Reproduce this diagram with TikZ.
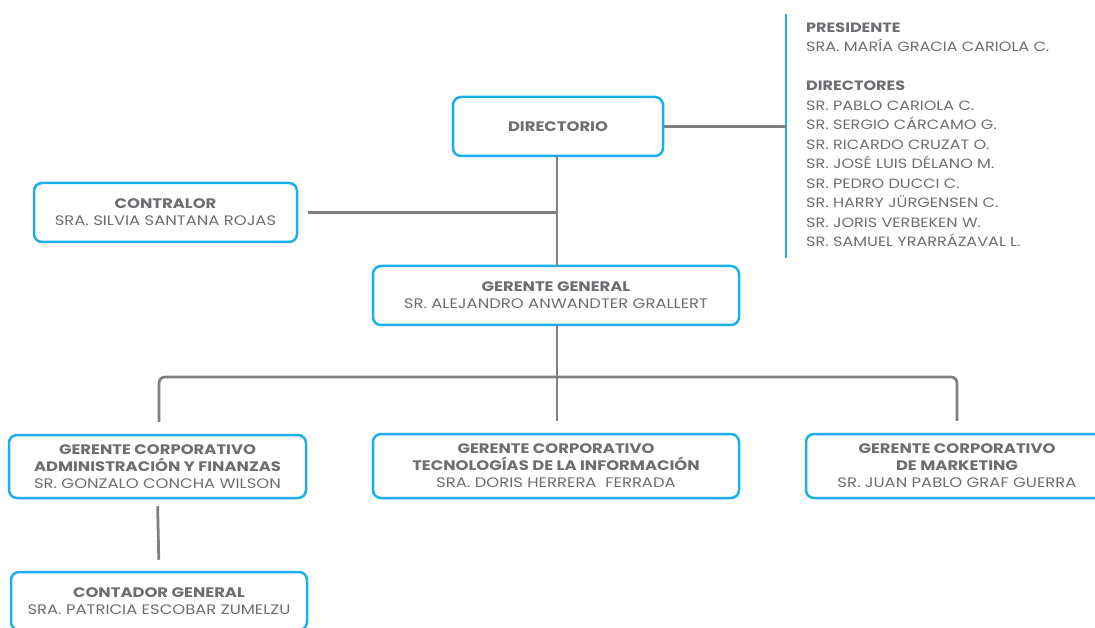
\documentclass[tikz,border=0pt]{standalone}
\usepackage{fontspec}
\setmainfont{Poppins}[FakeStretch=1.19]
\definecolor{boxblue}{HTML}{1BB0EC}
\definecolor{linegray}{HTML}{808080}
\definecolor{txtgray}{HTML}{6D6E71}

\tikzset{
    unit/.style={draw=boxblue, line width=2.5pt, rounded corners=8pt, fill=white,
        inner sep=0pt, align=center, text=txtgray,
        font=\fontsize{13.8}{17}\selectfont},
    link/.style={draw=linegray, line width=2.8pt}
}

\begin{document}
\begin{tikzpicture}[x=1pt, y=-1pt]
    \useasboundingbox (0,0) rectangle (1095,628);
    \clip (0,0) rectangle (1095,628);

    % boxes
    \node[unit, minimum width=210, minimum height=59] (dir) at (558,126.5) {\textbf{DIRECTORIO}};
    \node[unit, minimum width=263, minimum height=59] (contr) at (165.5,212.5) {\textbf{CONTRALOR}\\SRA. SILVIA SANTANA ROJAS};
    \node[unit, minimum width=366, minimum height=59] (gg) at (556,295.5) {\textbf{GERENTE GENERAL}\\SR. ALEJANDRO ANWANDTER GRALLERT};
    \node[unit, minimum width=297, minimum height=63] (adm) at (157.5,466.5) {\textbf{GERENTE CORPORATIVO}\\\textbf{ADMINISTRACIÓN Y FINANZAS}\\SR. GONZALO CONCHA WILSON};
    \node[unit, minimum width=366, minimum height=64] (ti) at (556,466) {\textbf{GERENTE CORPORATIVO}\\\textbf{TECNOLOGÍAS DE LA INFORMACIÓN}\\SRA. DORIS HERRERA\ \ FERRADA};
    \node[unit, minimum width=302, minimum height=64] (mkt) at (957,466) {\textbf{GERENTE CORPORATIVO}\\\textbf{DE MARKETING}\\SR. JUAN PABLO GRAF GUERRA};
    \node[unit, minimum width=296, minimum height=58] (cont) at (159,601) {\textbf{CONTADOR GENERAL}\\SRA. PATRICIA ESCOBAR ZUMELZU};

    % board members
    \coordinate (bartop) at (786,14);
    \coordinate (barbot) at (786,258);
    \draw[draw=boxblue, line width=2.5pt] (bartop) -- (barbot);
    \node[anchor=north west, align=left, inner sep=0pt, text=txtgray,
        font=\fontsize{13.5}{19.5}\selectfont] (board) at (806,22.3)
        {\textbf{PRESIDENTE}\\SRA. MARÍA GRACIA CARIOLA C.\\[19.5pt]
        \textbf{DIRECTORES}\\SR. PABLO CARIOLA C.\\SR. SERGIO CÁRCAMO G.\\SR. RICARDO CRUZAT O.\\
        SR. JOSÉ LUIS DÉLANO M.\\SR. PEDRO DUCCI C.\\SR. HARRY JÜRGENSEN C.\\
        SR. JORIS VERBEKEN W.\\SR. SAMUEL YRARRÁZAVAL L.};

    % connectors
    \coordinate (bus) at (557,377);
    \draw[link] (dir.east) -- (dir.east -| bartop);
    \draw[link] (557,156) -- (557,266);
    \draw[link, shorten <=10pt] (contr.east) -- (contr.east -| bus);
    \draw[link] (557,325) -- ([yshift=12pt]ti.north -| bus);
    \draw[link, rounded corners=6pt] ([yshift=12pt]adm.north -| 159,0) |- (bus) -| ([yshift=12pt]mkt.north);
    \draw[link, shorten <=7pt, shorten >=11pt] (adm.south) -- (cont.north);
\end{tikzpicture}
\end{document}
